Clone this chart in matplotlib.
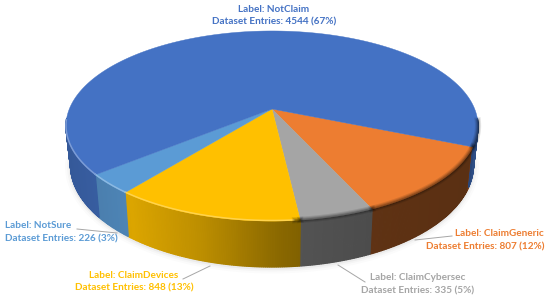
import numpy as np
import matplotlib
matplotlib.use("Agg")
import matplotlib.pyplot as plt
from matplotlib.colors import to_rgb

# values, clockwise from the right hand edge of the orange slice
labels = ["ClaimGeneric", "ClaimCybersec", "ClaimDevices", "NotSure", "NotClaim"]
entries = [807, 335, 848, 226, 4544]
percents = [12, 5, 13, 3, 67]
colors = ["#ed7d31", "#a5a5a5", "#ffc000", "#5b9bd5", "#4472c4"]

plt.rcParams["font.family"] = ["Lato", "DejaVu Sans"]

# label placement in pixels: x, y of first line, y of second line, alignment
label_pos = [(544, 233, 247, "right"), (418, 278, 291, "center"), (134, 275, 288, "center"),
	(5, 226, 239, "left"), (274, 9, 22, "center")]
leaders = [[(452, 236), (415, 240)], [(365, 282), (338, 265)], [(183, 279), (210, 266)],
	[(77, 229), (117, 233)], None]

#perspective of the disc
apex_x = 272
apex_y = 109
a = 202.7
b = 92
k = 0.179
depth = 46
start = -22.6


def project(angle):
	X = np.cos(np.radians(angle))
	Y = np.sin(np.radians(angle))
	den = 1 + k*Y
	return apex_x + a*X/den, apex_y - b*Y/den, den


def bottom(angle):
	x, y, den = project(angle)
	return apex_x + (x-apex_x)*0.978, y + depth*0.82/den


def shade(x):
	return np.interp(x, [65, 130, 200, 275, 302, 372, 373, 470, 474], [0.78, 0.86, 0.74, 0.55, 0.50, 0.46, 0.40, 0.38, 0.68])


fig = plt.figure(figsize=(5.5, 3.02), dpi=100)
ax = fig.add_axes([0, 0, 1, 1])
ax.set_xlim(0, 550)
ax.set_ylim(302, 0)
ax.axis("off")

total = sum(entries)
sweeps = [360*e/total for e in entries]
edges = start - np.concatenate([[0], np.cumsum(sweeps)])

#soft shadow under the wall
ang = np.linspace(-172, -8, 200)
bx, by = bottom(ang)
for w, al in [(8, 0.015), (5, 0.025), (2.5, 0.04)]:
	ax.plot(bx, by+1, color="k", lw=w, alpha=al, solid_capstyle="round", zorder=1)

#walls
for i in range(len(entries)):
	ang = np.linspace(edges[i], edges[i+1], max(2, int(sweeps[i]*2)))
	for a0, a1 in zip(ang[:-1], ang[1:]):
		if np.sin(np.radians((a0+a1)/2)) > -0.1:
			continue
		x0, y0, _ = project(a0)
		x1, y1, _ = project(a1)
		x2, y2 = bottom(a1)
		x3, y3 = bottom(a0)
		c = np.array(to_rgb(colors[i]))*shade((x0+x1)/2)
		ax.fill([x0, x1, x2, x3], [y0, y1, y2, y3], color=tuple(c), lw=0.9, zorder=2)

#top face
for i in range(len(entries)):
	ang = np.linspace(edges[i], edges[i+1], 200)
	x, y, _ = project(ang)
	ax.fill(np.r_[apex_x, x], np.r_[apex_y, y], color=colors[i], lw=0.3, zorder=3)

#bevel along the front rim: light on the left, dark on the right
for i in range(len(entries)):
	ang = np.linspace(edges[i], edges[i+1], 300)
	ang = ang[np.sin(np.radians(ang)) < -0.12]
	x, y, _ = project(ang)
	c = np.array(to_rgb(colors[i]))
	light = x.copy()
	light[x > 295] = np.nan
	dark = x.copy()
	dark[x <= 295] = np.nan
	ax.plot(light, y-0.6, color=tuple(c + (1-c)*0.3), lw=1.1, zorder=4)
	for w, al in [(4.5, 0.10), (3, 0.14), (1.5, 0.2)]:
		ax.plot(dark, y-0.3, color="k", lw=w, alpha=al, zorder=4)

for i in range(len(labels)):
	x, y1, y2, ha = label_pos[i]
	ax.text(x, y1, "Label: "+labels[i], color=colors[i], fontsize=7.2, fontweight="bold",
		ha=ha, va="center", zorder=6)
	ax.text(x, y2, "Dataset Entries: {} ({}%)".format(entries[i], percents[i]), color=colors[i],
		fontsize=7.2, fontweight="bold", ha=ha, va="center", zorder=6)
	if leaders[i] is not None:
		ax.plot(*zip(*leaders[i]), color="#a6a6a6", lw=0.7, zorder=5)

fig.savefig("out.png", dpi=100)
